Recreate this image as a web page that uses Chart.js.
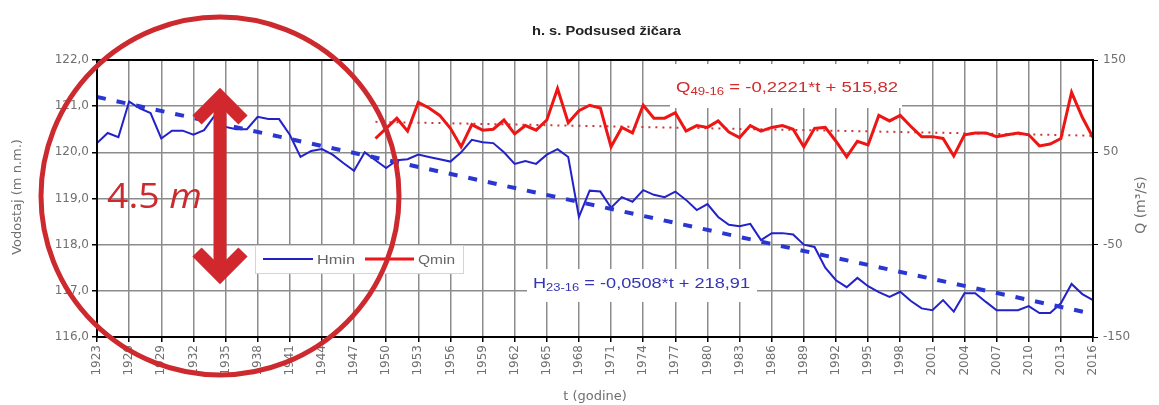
<!DOCTYPE html>
<html>
<head>
<meta charset="utf-8">
<script src="https://cdn.jsdelivr.net/npm/chart.js@4.4.1/dist/chart.umd.min.js"></script>
<style>
  html, body { margin: 0; background: #fff; }
  #wrap { width: 1159px; height: 405px; }
</style>
</head>
<body>
<div id="wrap"><canvas id="chart" width="1159" height="405"></canvas></div>
<script>
// Years and values
const hYears = [1923,1924,1925,1926,1927,1928,1929,1930,1931,1932,1933,1934,1935,1936,1937,1938,1939,1940,1941,1942,
  1943,1944,1945,1946,1947,1948,1949,1950,1951,1952,1953,1954,1955,1956,1957,1958,1959,1960,1961,1962,
  1963,1964,1965,1966,1967,1968,1969,1970,1971,1972,1973,1974,1975,1976,1977,1978,1979,1980,1981,1982,
  1983,1984,1985,1986,1987,1988,1989,1990,1991,1992,1993,1994,1995,1996,1997,1998,1999,2000,2001,2002,
  2003,2004,2005,2006,2007,2008,2009,2010,2011,2012,2013,2014,2015,2016];
const hMin = [120.2,120.42,120.33,121.1,120.95,120.85,120.3,120.47,120.47,120.38,
  120.48,120.8,120.55,120.5,120.5,120.77,120.72,120.72,120.38,119.9,
  120.03,120.07,119.95,119.77,119.6,120.0,119.83,119.66,119.83,119.85,
  119.95,119.9,119.85,119.8,120.0,120.27,120.22,120.2,120.0,119.75,
  119.81,119.75,119.95,120.07,119.9,118.6,119.17,119.15,118.8,119.03,
  118.93,119.18,119.08,119.03,119.15,118.97,118.75,118.88,118.6,118.43,
  118.4,118.45,118.1,118.25,118.25,118.22,118.0,117.95,117.5,117.23,
  117.08,117.28,117.1,116.97,116.87,116.98,116.78,116.62,116.58,116.8,
  116.55,116.95,116.95,116.76,116.58,116.58,116.58,116.67,116.52,116.52,
  116.73,117.15,116.93,116.8];

const qYears = [1949,1950,1951,1952,1953,1954,1955,1956,1957,1958,1959,1960,1961,1962,1963,1964,1965,1966,1967,1968,
  1969,1970,1971,1972,1973,1974,1975,1976,1977,1978,1979,1980,1981,1982,1983,1984,1985,1986,1987,1988,
  1989,1990,1991,1992,1993,1994,1995,1996,1997,1998,1999,2000,2001,2002,2003,2004,2005,2006,2007,2008,
  2009,2010,2011,2012,2013,2014,2015,2016];
const qMin = [65,76,87,73,104,98,90,76,56,80,
  74,75,85,70,79,74,85,119,82,95,
  101,98,56,77,71,101,87,87,93,73,
  79,77,84,72,66,79,73,77,79,75,
  56,76,77,62,45,62,58,90,84,90,
  78,67,67,65,46,69,71,71,67,69,
  71,69,57,59,65,115,88,66];

// trend lines (end points)
const hTrendYears = [1923, 2016];
const hTrend = [121.2, 116.5];
const qTrendYears = [1949, 2016];
const qTrend = [83, 68];

const titleText = 'h. s. Podsused žičara';
const hEquation = ['H', '23-16', ' = -0,0508*t + 218,91'];
const qEquation = ['Q', '49-16', ' = -0,2221*t + 515,82'];

const blue = '#2222c8';
const red = '#ee1515';
const gridGray = '#8c8c8c';
const labelGray = '#707070';
const annotRed = '#cc2a2e';
const sans = '"DejaVu Sans", sans-serif';
const arial = '"Liberation Sans", Arial, sans-serif';

Chart.defaults.font.family = sans;
Chart.defaults.font.size = 12;

function toPoints(xs, ys) {
  return xs.map((x, i) => ({ x: x, y: ys[i] }));
}

// text squeezed or stretched to a given width, like the scaled picture
function fitText(ctx, text, x, y, width, font) {
  ctx.font = font;
  const sx = width / ctx.measureText(text).width;
  ctx.save();
  ctx.translate(x, y);
  ctx.scale(sx, 1);
  ctx.fillText(text, 0, 0);
  ctx.restore();
}

function drawEquation(ctx, parts, x, y, width, color) {
  ctx.save();
  ctx.fillStyle = color;
  ctx.textBaseline = 'alphabetic';
  ctx.textAlign = 'left';
  const big = '14px ' + arial;
  const small = '10px ' + arial;
  ctx.font = big;
  const w0 = ctx.measureText(parts[0]).width;
  const w2 = ctx.measureText(parts[2]).width;
  ctx.font = small;
  const w1 = ctx.measureText(parts[1]).width;
  ctx.translate(x, y);
  ctx.scale(width / (w0 + w1 + w2), 1);
  ctx.font = big;
  ctx.fillText(parts[0], 0, 0);
  ctx.font = small;
  ctx.fillText(parts[1], w0, 3);
  ctx.font = big;
  ctx.fillText(parts[2], w0 + w1, 0);
  ctx.restore();
}

// white boxes behind labels and legend (over the grid, under the lines)
const boxes = {
  id: 'boxes',
  beforeDatasetsDraw(chart) {
    const ctx = chart.ctx;
    ctx.save();
    ctx.fillStyle = '#fff';
    ctx.fillRect(670, 64, 232, 44);
    ctx.fillRect(527, 269, 230, 33);
    ctx.fillRect(255, 245, 208, 28);
    ctx.strokeStyle = '#d4d4d4';
    ctx.lineWidth = 1;
    ctx.strokeRect(255.5, 245.5, 208, 28);
    ctx.restore();
  }
};

const extras = {
  id: 'extras',
  afterDraw(chart) {
    const ctx = chart.ctx;
    const a = chart.chartArea;
    ctx.save();

    // frame
    ctx.strokeStyle = '#000';
    ctx.lineWidth = 2;
    ctx.strokeRect(a.left, a.top, a.right - a.left, a.bottom - a.top);

    // title
    ctx.fillStyle = '#222';
    ctx.textAlign = 'left';
    ctx.textBaseline = 'middle';
    fitText(ctx, titleText, 532, 31, 149, 'bold 13px ' + arial);

    // axis titles
    ctx.fillStyle = labelGray;
    ctx.textAlign = 'center';
    ctx.font = '13px ' + sans;
    ctx.save();
    ctx.translate(18, 197);
    ctx.rotate(-Math.PI / 2);
    ctx.fillText('Vodostaj (m n.m.)', 0, 0);
    ctx.restore();
    ctx.save();
    ctx.translate(1141, 205);
    ctx.rotate(-Math.PI / 2);
    ctx.font = '14px ' + sans;
    ctx.fillText('Q (m³/s)', 0, 0);
    ctx.restore();

    // legend
    const ds = chart.data.datasets;
    ctx.lineWidth = ds[0].borderWidth;
    ctx.strokeStyle = ds[0].borderColor;
    ctx.beginPath(); ctx.moveTo(263, 259); ctx.lineTo(313, 259); ctx.stroke();
    ctx.lineWidth = ds[1].borderWidth;
    ctx.strokeStyle = ds[1].borderColor;
    ctx.beginPath(); ctx.moveTo(365, 259); ctx.lineTo(414, 259); ctx.stroke();
    ctx.fillStyle = '#666';
    ctx.textAlign = 'left';
    ctx.textBaseline = 'middle';
    fitText(ctx, ds[0].label, 317, 260, 38, '13px ' + arial);
    fitText(ctx, ds[1].label, 418, 260, 37, '13px ' + arial);

    // equations
    drawEquation(ctx, qEquation, 676, 92, 222, '#d42a2a');
    drawEquation(ctx, hEquation, 533, 288, 217, '#3535b5');

    // annotation: circle, arrow, text
    ctx.strokeStyle = annotRed;
    ctx.lineWidth = 5;
    ctx.beginPath();
    ctx.arc(220, 196, 179, 0, Math.PI * 2);
    ctx.stroke();

    ctx.strokeStyle = '#d0282d';
    ctx.lineWidth = 13;
    ctx.lineJoin = 'miter';
    ctx.lineCap = 'butt';
    ctx.beginPath();
    ctx.moveTo(220, 100); ctx.lineTo(220, 272);
    ctx.stroke();
    ctx.beginPath();
    ctx.moveTo(197, 120); ctx.lineTo(220, 97); ctx.lineTo(243, 120);
    ctx.stroke();
    ctx.beginPath();
    ctx.moveTo(197, 252); ctx.lineTo(220, 275); ctx.lineTo(243, 252);
    ctx.stroke();

    ctx.fillStyle = annotRed;
    ctx.textBaseline = 'alphabetic';
    ctx.textAlign = 'left';
    ctx.font = '34px "Open Sans", sans-serif';
    const w45 = ctx.measureText('4.5 ').width;
    ctx.font = 'italic 34px "Open Sans", sans-serif';
    const wm = ctx.measureText('m').width;
    ctx.save();
    ctx.translate(107, 208);
    ctx.scale(95 / (w45 + wm), 1);
    ctx.font = '34px "Open Sans", sans-serif';
    ctx.fillText('4.5', 0, 0);
    ctx.font = 'italic 34px "Open Sans", sans-serif';
    ctx.fillText('m', w45, 0);
    ctx.restore();

    ctx.restore();
  }
};

new Chart(document.getElementById('chart'), {
  type: 'line',
  data: {
    datasets: [
      {
        label: 'Hmin',
        data: toPoints(hYears, hMin),
        yAxisID: 'y',
        borderColor: blue,
        borderWidth: 2,
        pointRadius: 0,
        tension: 0,
        order: 3
      },
      {
        label: 'Qmin',
        data: toPoints(qYears, qMin),
        yAxisID: 'y2',
        borderColor: red,
        borderWidth: 3,
        pointRadius: 0,
        tension: 0,
        order: 1
      },
      {
        label: 'H trend',
        data: toPoints(hTrendYears, hTrend),
        yAxisID: 'y',
        borderColor: '#2a36d2',
        borderWidth: 4,
        borderDash: [9, 11],
        pointRadius: 0,
        order: 2
      },
      {
        label: 'Q trend',
        data: toPoints(qTrendYears, qTrend),
        yAxisID: 'y2',
        borderColor: '#c83a3a',
        borderWidth: 2,
        borderDash: [2, 5],
        pointRadius: 0,
        order: 2
      }
    ]
  },
  options: {
    responsive: false,
    animation: false,
    layout: { padding: { top: 60, left: 0, right: 0, bottom: 0 } },
    plugins: {
      legend: { display: false },
      tooltip: { enabled: false }
    },
    scales: {
      x: {
        type: 'linear',
        min: 1923,
        max: 2016,
        ticks: {
          stepSize: 3,
          autoSkip: false,
          minRotation: 90,
          maxRotation: 90,
          color: labelGray,
          padding: 3,
          callback: v => String(v)
        },
        grid: { color: gridGray, lineWidth: 1.5, tickLength: 5, tickColor: '#000' },
        border: { color: '#000', width: 2 },
        title: { display: true, text: 't (godine)', color: labelGray, font: { size: 13 }, padding: { top: 0, bottom: 1 } },
        afterFit(scale) { scale.height = 68; }
      },
      y: {
        position: 'left',
        min: 116,
        max: 122,
        ticks: {
          stepSize: 1,
          color: labelGray,
          padding: 3,
          callback: v => v.toFixed(1).replace('.', ',')
        },
        grid: { color: gridGray, lineWidth: 1.5, tickLength: 5, tickColor: '#000' },
        border: { color: '#000', width: 2 },
        afterFit(scale) { scale.width = 97; }
      },
      y2: {
        position: 'right',
        min: -150,
        max: 150,
        ticks: { stepSize: 100, color: labelGray, padding: 5 },
        grid: { drawOnChartArea: false, tickLength: 5, tickColor: '#000' },
        border: { color: '#000', width: 2 },
        afterFit(scale) { scale.width = 66; }
      }
    }
  },
  plugins: [boxes, extras]
});
</script>
</body>
</html>
